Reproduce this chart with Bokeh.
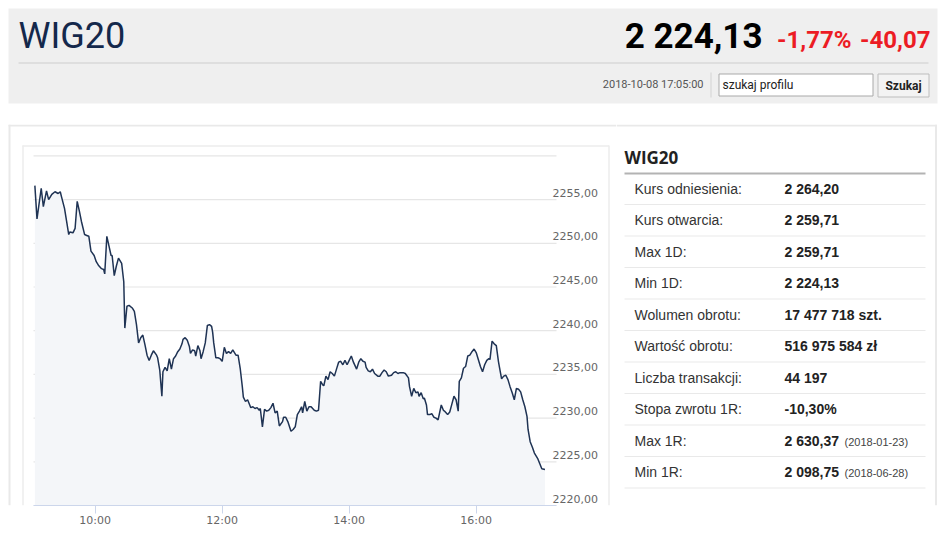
import pandas as pd
from bokeh.plotting import figure
from bokeh.models import Range1d, DatetimeAxis, FixedTicker, DatetimeTickFormatter, ColumnDataSource
from bokeh.layouts import column, row
from bokeh.core.properties import value
from bokeh.embed import file_html
from bokeh.resources import INLINE

# ---------------- data ----------------
session_start = "2018-10-08 09:00"
minutes = [3, 5, 9, 11, 14, 16, 19, 22, 25, 27, 28, 31, 33, 35, 36, 39, 41, 43, 45, 47,
           50, 52, 54, 56, 59, 61, 63, 66, 68, 69, 71, 73, 75, 76, 78, 80, 82, 85, 87, 88,
           90, 92, 95, 97, 99, 101, 103, 105, 107, 109, 111, 113, 115, 118,
           119, 121, 123, 124, 126, 128, 130, 132, 134, 136, 138, 140, 142, 143, 145, 147,
           149, 150, 152, 154, 155, 157, 159, 160, 162, 164, 166, 168, 170, 171, 172, 174,
           176, 178, 180, 182, 184, 186, 188, 190, 193, 195, 197, 199, 200, 202, 204, 206,
           207, 209, 211, 213, 215, 216, 218, 220, 222, 224, 226, 228, 230, 232, 234, 237,
           238, 240, 242, 245, 247, 249, 251, 253, 255, 256, 258, 260, 262, 264, 267, 269,
           271, 273, 275, 276, 278, 280, 282, 284, 286, 288, 290, 292, 294, 296, 298, 300,
           302, 304, 307, 309, 311, 313, 315, 316, 318, 320, 322, 324, 327, 329, 331, 333,
           335, 337, 340, 342, 344, 346, 348, 351, 353,
           356, 357, 359, 361, 363, 365, 366, 368, 370, 371, 373, 374, 376, 378, 380, 382,
           384, 387, 389, 390, 393, 395, 397, 399, 401, 403, 404, 406, 408, 410, 412, 414,
           416, 418, 420, 422, 424, 426, 428, 430, 432, 433, 435, 437, 439, 441, 442, 444,
           446, 448, 450, 452, 454, 456, 458, 460, 462, 464, 466, 468, 469, 471, 473, 475,
           478, 480, 482, 485]
prices = [2256.6, 2252.8, 2256.3, 2254.2, 2256.0, 2255.0, 2255.6, 2255.9, 2255.7, 2255.9,
          2255.4, 2254.0, 2252.5, 2251.0, 2251.3, 2251.2, 2251.7, 2254.8, 2253.7, 2252.5,
          2251.0, 2250.9, 2250.8, 2249.1, 2248.6, 2247.9, 2247.5, 2247.1, 2247.0, 2246.5,
          2250.8, 2249.7, 2248.6, 2248.6, 2246.3, 2247.4, 2248.3, 2247.7, 2245.6, 2240.3,
          2242.8, 2242.9, 2242.6, 2242.2, 2240.7, 2238.6, 2239.2, 2239.5, 2238.4, 2237.2,
          2236.6, 2237.2, 2237.7, 2237.2,
          2236.9, 2235.5, 2232.5, 2235.3, 2235.8, 2235.4, 2236.8, 2235.6, 2236.8, 2237.1,
          2237.6, 2237.9, 2238.5, 2239.0, 2239.2, 2238.9, 2238.2, 2237.4, 2237.8, 2237.7,
          2237.1, 2238.3, 2237.7, 2236.8, 2237.6, 2238.6, 2240.6, 2240.7, 2240.5, 2239.8,
          2238.6, 2236.9, 2236.9, 2236.8, 2236.5, 2238.1, 2237.4, 2237.6, 2237.4, 2237.8,
          2237.2, 2237.2, 2235.7, 2233.6, 2232.4, 2231.9, 2232.1, 2231.5, 2231.2, 2231.3,
          2231.1, 2231.2, 2230.9, 2231.1, 2229.0, 2231.0, 2230.8, 2230.9, 2231.2, 2231.7,
          2230.6, 2230.8, 2229.1, 2229.6,
          2230.1, 2230.1, 2229.6, 2228.5, 2228.7, 2229.0, 2230.4, 2230.8, 2231.3, 2230.6,
          2231.9, 2230.8, 2231.3, 2231.3, 2230.9, 2230.8, 2230.9, 2234.2, 2233.8, 2233.7,
          2234.8, 2234.4, 2235.3, 2235.1, 2234.8, 2235.6, 2236.4, 2236.5, 2236.1, 2236.6,
          2236.1, 2236.6, 2237.1, 2236.4, 2235.6, 2236.4, 2236.8, 2236.5, 2236.4, 2235.8,
          2235.4, 2235.3, 2235.6, 2235.1, 2234.8, 2234.8, 2235.2, 2235.5, 2235.3, 2234.8,
          2234.9, 2235.2, 2235.3, 2235.1, 2235.2, 2235.2, 2235.1,
          2234.6, 2233.6, 2232.5, 2233.4, 2232.9, 2233.0, 2232.5, 2232.9, 2232.2, 2232.3,
          2231.5, 2230.4, 2230.4, 2230.5, 2230.1, 2230.0, 2229.8, 2231.5, 2230.9, 2230.8,
          2230.4, 2230.7, 2231.6, 2232.5, 2232.1, 2230.8, 2234.2, 2234.6, 2235.7, 2235.9,
          2237.1, 2237.2, 2237.6, 2237.9, 2237.5, 2236.7, 2235.9, 2235.3, 2236.1, 2236.6,
          2236.8, 2236.7, 2238.8, 2238.5, 2238.3, 2236.5, 2235.8, 2234.5, 2234.8, 2234.9,
          2234.4, 2233.6, 2232.9, 2232.1, 2233.4, 2233.3, 2233.0, 2232.1, 2231.3, 2230.2,
          2228.7, 2227.3, 2226.7, 2226.0, 2225.4, 2224.8, 2224.2, 2224.13]

y_grid_values = [2220, 2225, 2230, 2235, 2240, 2245, 2250, 2255, 2260]
y_tick_values = [2220, 2225, 2230, 2235, 2240, 2245, 2250, 2255]
y_tick_labels = ["2220,00", "2225,00", "2230,00", "2235,00",
                 "2240,00", "2245,00", "2250,00", "2255,00"]
x_tick_times = ["10:00", "12:00", "14:00", "16:00"]

index_name = "WIG20"
last_price = "2 224,13"
change_pct = "-1,77%"
change_abs = "-40,07"
timestamp = "2018-10-08 17:05:00"
search_placeholder = "szukaj profilu"
search_button = "Szukaj"

stat_labels = ["Kurs odniesienia:", "Kurs otwarcia:", "Max 1D:", "Min 1D:",
               "Wolumen obrotu:", "Wartość obrotu:", "Liczba transakcji:",
               "Stopa zwrotu 1R:", "Max 1R:", "Min 1R:"]
stat_values = ["2 264,20", "2 259,71", "2 259,71", "2 224,13", "17 477 718 szt.",
               "516 975 584 zł", "44 197", "-10,30%", "2 630,37", "2 098,75"]
stat_dates = ["", "", "", "", "", "", "", "", "(2018-01-23)", "(2018-06-28)"]

# ---------------- page geometry (pixels) ----------------
PAGE_W = 940
HDR_H = 124           # header strip incl. white gap below it
PANEL_H = 412         # chart + table row
AXIS_H = 31           # room for the time axis under the plot frame
CHART_W = 616
TABLE_W = PAGE_W - CHART_W
FRAME_TOP, FRAME_BOT = HDR_H, HDR_H + PANEL_H - AXIS_H   # page y of plot frame

# ---------------- header ----------------
hdr = figure(width=PAGE_W, height=HDR_H, x_range=Range1d(0, PAGE_W), y_range=Range1d(HDR_H, 0),
             x_axis_type=None, y_axis_type=None, min_border=0,
             toolbar_location=None, output_backend="svg",
             background_fill_color="#ffffff", border_fill_color="#ffffff",
             outline_line_color=None)
hdr.quad(left=[8], right=[937], top=[8], bottom=[103], fill_color="#efefef", line_color=None)
hdr.text(x=[18], y=[35], text=[index_name], text_font=value("Roboto"),
         text_font_size="36px", text_color="#14284b", text_baseline="middle")
hdr.text(x=[762], y=[36], text=[last_price], text_font=value("Roboto"),
         text_font_size="35px", text_font_style="bold", text_color="#000000",
         text_align="right", text_baseline="middle")
hdr.text(x=[851, 930], y=[39, 39], text=[change_pct, change_abs], text_font=value("Roboto"),
         text_font_size="24px", text_font_style="bold", text_color="#ec1c24",
         text_align="right", text_baseline="middle")
hdr.segment(x0=[18], y0=[62.5], x1=[928], y1=[62.5], line_color="#d9d9d9", line_width=1.5)
hdr.text(x=[703], y=[84], text=[timestamp], text_font=value("Roboto"),
         text_font_size="11px", text_color="#555555", text_align="right",
         text_baseline="middle")
hdr.segment(x0=[710.5], y0=[72], x1=[710.5], y1=[97], line_color="#d3d3d3", line_width=1)
hdr.quad(left=[718.5], right=[872.5], top=[73.5], bottom=[95.5], fill_color="#ffffff",
         line_color="#a9a9a9", line_width=1)
hdr.text(x=[722], y=[84.5], text=[search_placeholder], text_font=value("Roboto"),
         text_font_size="12px", text_color="#222222", text_baseline="middle")
hdr.quad(left=[877.5], right=[928.5], top=[73.5], bottom=[96.5], fill_color="#f3f3f3",
         line_color="#bdbdbd", line_width=1)
hdr.text(x=[903], y=[85], text=[search_button], text_font=value("Roboto"),
         text_font_size="12px", text_font_style="bold", text_color="#222222",
         text_align="center", text_baseline="middle")

# ---------------- chart ----------------
base = pd.Timestamp(session_start)
times = (base + pd.to_timedelta(minutes, unit="m")).to_numpy()
src = ColumnDataSource(dict(t=times, v=prices))

PX_PER_MIN = 63.5 / 60.0      # horizontal scale of the time axis
X_9H = 31.2                   # page x of 09:00
PX_PER_UNIT = 8.74            # vertical scale of the price axis
y_lo, y_hi = y_grid_values[0], y_grid_values[-1]

def page_x_to_time(px):
    return base + pd.Timedelta(minutes=(px - X_9H) / PX_PER_MIN)

t_left, t_right = page_x_to_time(0), page_x_to_time(CHART_W)
t_plot0, t_plot1 = page_x_to_time(33), page_x_to_time(556)
y_top = y_lo + (FRAME_BOT - FRAME_TOP) / PX_PER_UNIT

p = figure(width=CHART_W, height=PANEL_H,
           x_range=Range1d(t_left, t_right), y_range=Range1d(y_lo, y_top),
           x_axis_type=None, y_axis_type=None,
           min_border_left=0, min_border_right=0, min_border_top=0, min_border_bottom=AXIS_H,
           toolbar_location=None, output_backend="svg",
           background_fill_color="#ffffff", border_fill_color="#ffffff",
           outline_line_color=None)
p.extra_x_ranges = {"px": Range1d(0, CHART_W)}
p.extra_y_ranges = {"px": Range1d(FRAME_BOT, FRAME_TOP)}

# panel and chart-box borders (page pixels)
p.segment(x0=[8, 9], y0=[125, FRAME_TOP], x1=[CHART_W, 9], y1=[125, FRAME_BOT],
          line_color="#e9e9e9", line_width=2, x_range_name="px", y_range_name="px")
p.segment(x0=[22, 22.5, 608.5], y0=[145.5, 145, 145], x1=[608.5, 22.5, 608.5],
          y1=[145.5, FRAME_BOT, FRAME_BOT],
          line_color="#ededed", line_width=1.5, x_range_name="px", y_range_name="px")

# horizontal grid lines over the plot width
ng = len(y_grid_values)
p.segment(x0=[t_plot0] * ng, x1=[t_plot1] * ng, y0=y_grid_values, y1=y_grid_values,
          line_color="#e6e6e6", line_width=1.2)

p.varea(x="t", y1=y_lo, y2="v", source=src, fill_color="#f4f6f9")
p.line(x="t", y="v", source=src, line_color="#1f3354", line_width=1.5)

# price labels, right side, just above their grid lines
nt = len(y_tick_values)
p.text(x=[t_plot1] * nt, y=y_tick_values, text=y_tick_labels, x_offset=-4, y_offset=-7,
       text_font=value("DejaVu Sans"), text_font_size="11px", text_color="#666666",
       text_baseline="middle", text_align="left")

tick_ms = [pd.Timestamp(session_start[:10] + " " + s).value / 1e6 for s in x_tick_times]
xax = DatetimeAxis(ticker=FixedTicker(ticks=tick_ms),
                   formatter=DatetimeTickFormatter(hours="%H:%M", hourmin="%H:%M",
                                                   minutes="%H:%M", days="%H:%M"),
                   bounds=(t_plot0.value / 1e6, t_plot1.value / 1e6),
                   axis_line_color="#ccd6eb", axis_line_width=1,
                   major_tick_line_color="#ccd6eb", major_tick_out=8, major_tick_in=0,
                   minor_tick_line_color=None, major_label_standoff=0,
                   major_label_text_font="DejaVu Sans", major_label_text_font_size="11px",
                   major_label_text_color="#666666")
p.add_layout(xax, "below")

# ---------------- stats table ----------------
tb = figure(width=TABLE_W, height=PANEL_H,
            x_range=Range1d(CHART_W, PAGE_W), y_range=Range1d(FRAME_BOT, FRAME_TOP),
            x_axis_type=None, y_axis_type=None,
            min_border_left=0, min_border_right=0, min_border_top=0, min_border_bottom=AXIS_H,
            toolbar_location=None, output_backend="svg",
            background_fill_color="#ffffff", border_fill_color="#ffffff",
            outline_line_color=None)
tb.segment(x0=[CHART_W, 935.5], y0=[125, FRAME_TOP], x1=[936.5, 935.5], y1=[125, FRAME_BOT],
           line_color="#e9e9e9", line_width=2)
tb.text(x=[624], y=[157], text=[index_name], text_font=value("Open Sans"),
        text_font_size="17px", text_font_style="bold", text_color="#222222",
        text_baseline="middle")
tb.segment(x0=[624], y0=[173], x1=[925], y1=[173], line_color="#b3b3b3", line_width=2)

n = len(stat_labels)
row_y = [188 + 31.5 * i for i in range(n)]
sep_y = [y + 16 for y in row_y]
tb.segment(x0=[624] * n, y0=sep_y, x1=[925] * n, y1=sep_y, line_color="#e9e9e9", line_width=1)
tb.text(x=[634] * n, y=row_y, text=stat_labels, text_font=value("Liberation Sans"),
        text_font_size="14px", text_color="#333333", text_baseline="middle")
tb.text(x=[784] * n, y=row_y, text=stat_values, text_font=value("Liberation Sans"),
        text_font_size="14px", text_font_style="bold", text_color="#222222",
        text_baseline="middle")
date_idx = [i for i, d in enumerate(stat_dates) if d]
tb.text(x=[844] * len(date_idx), y=[row_y[i] + 1 for i in date_idx],
        text=[stat_dates[i] for i in date_idx], text_font=value("Liberation Sans"),
        text_font_size="11px", text_color="#444444", text_baseline="middle")

layout = column(hdr, row(p, tb))

with open("out.html", "w", encoding="utf-8") as f:
    f.write(file_html(layout, INLINE))
